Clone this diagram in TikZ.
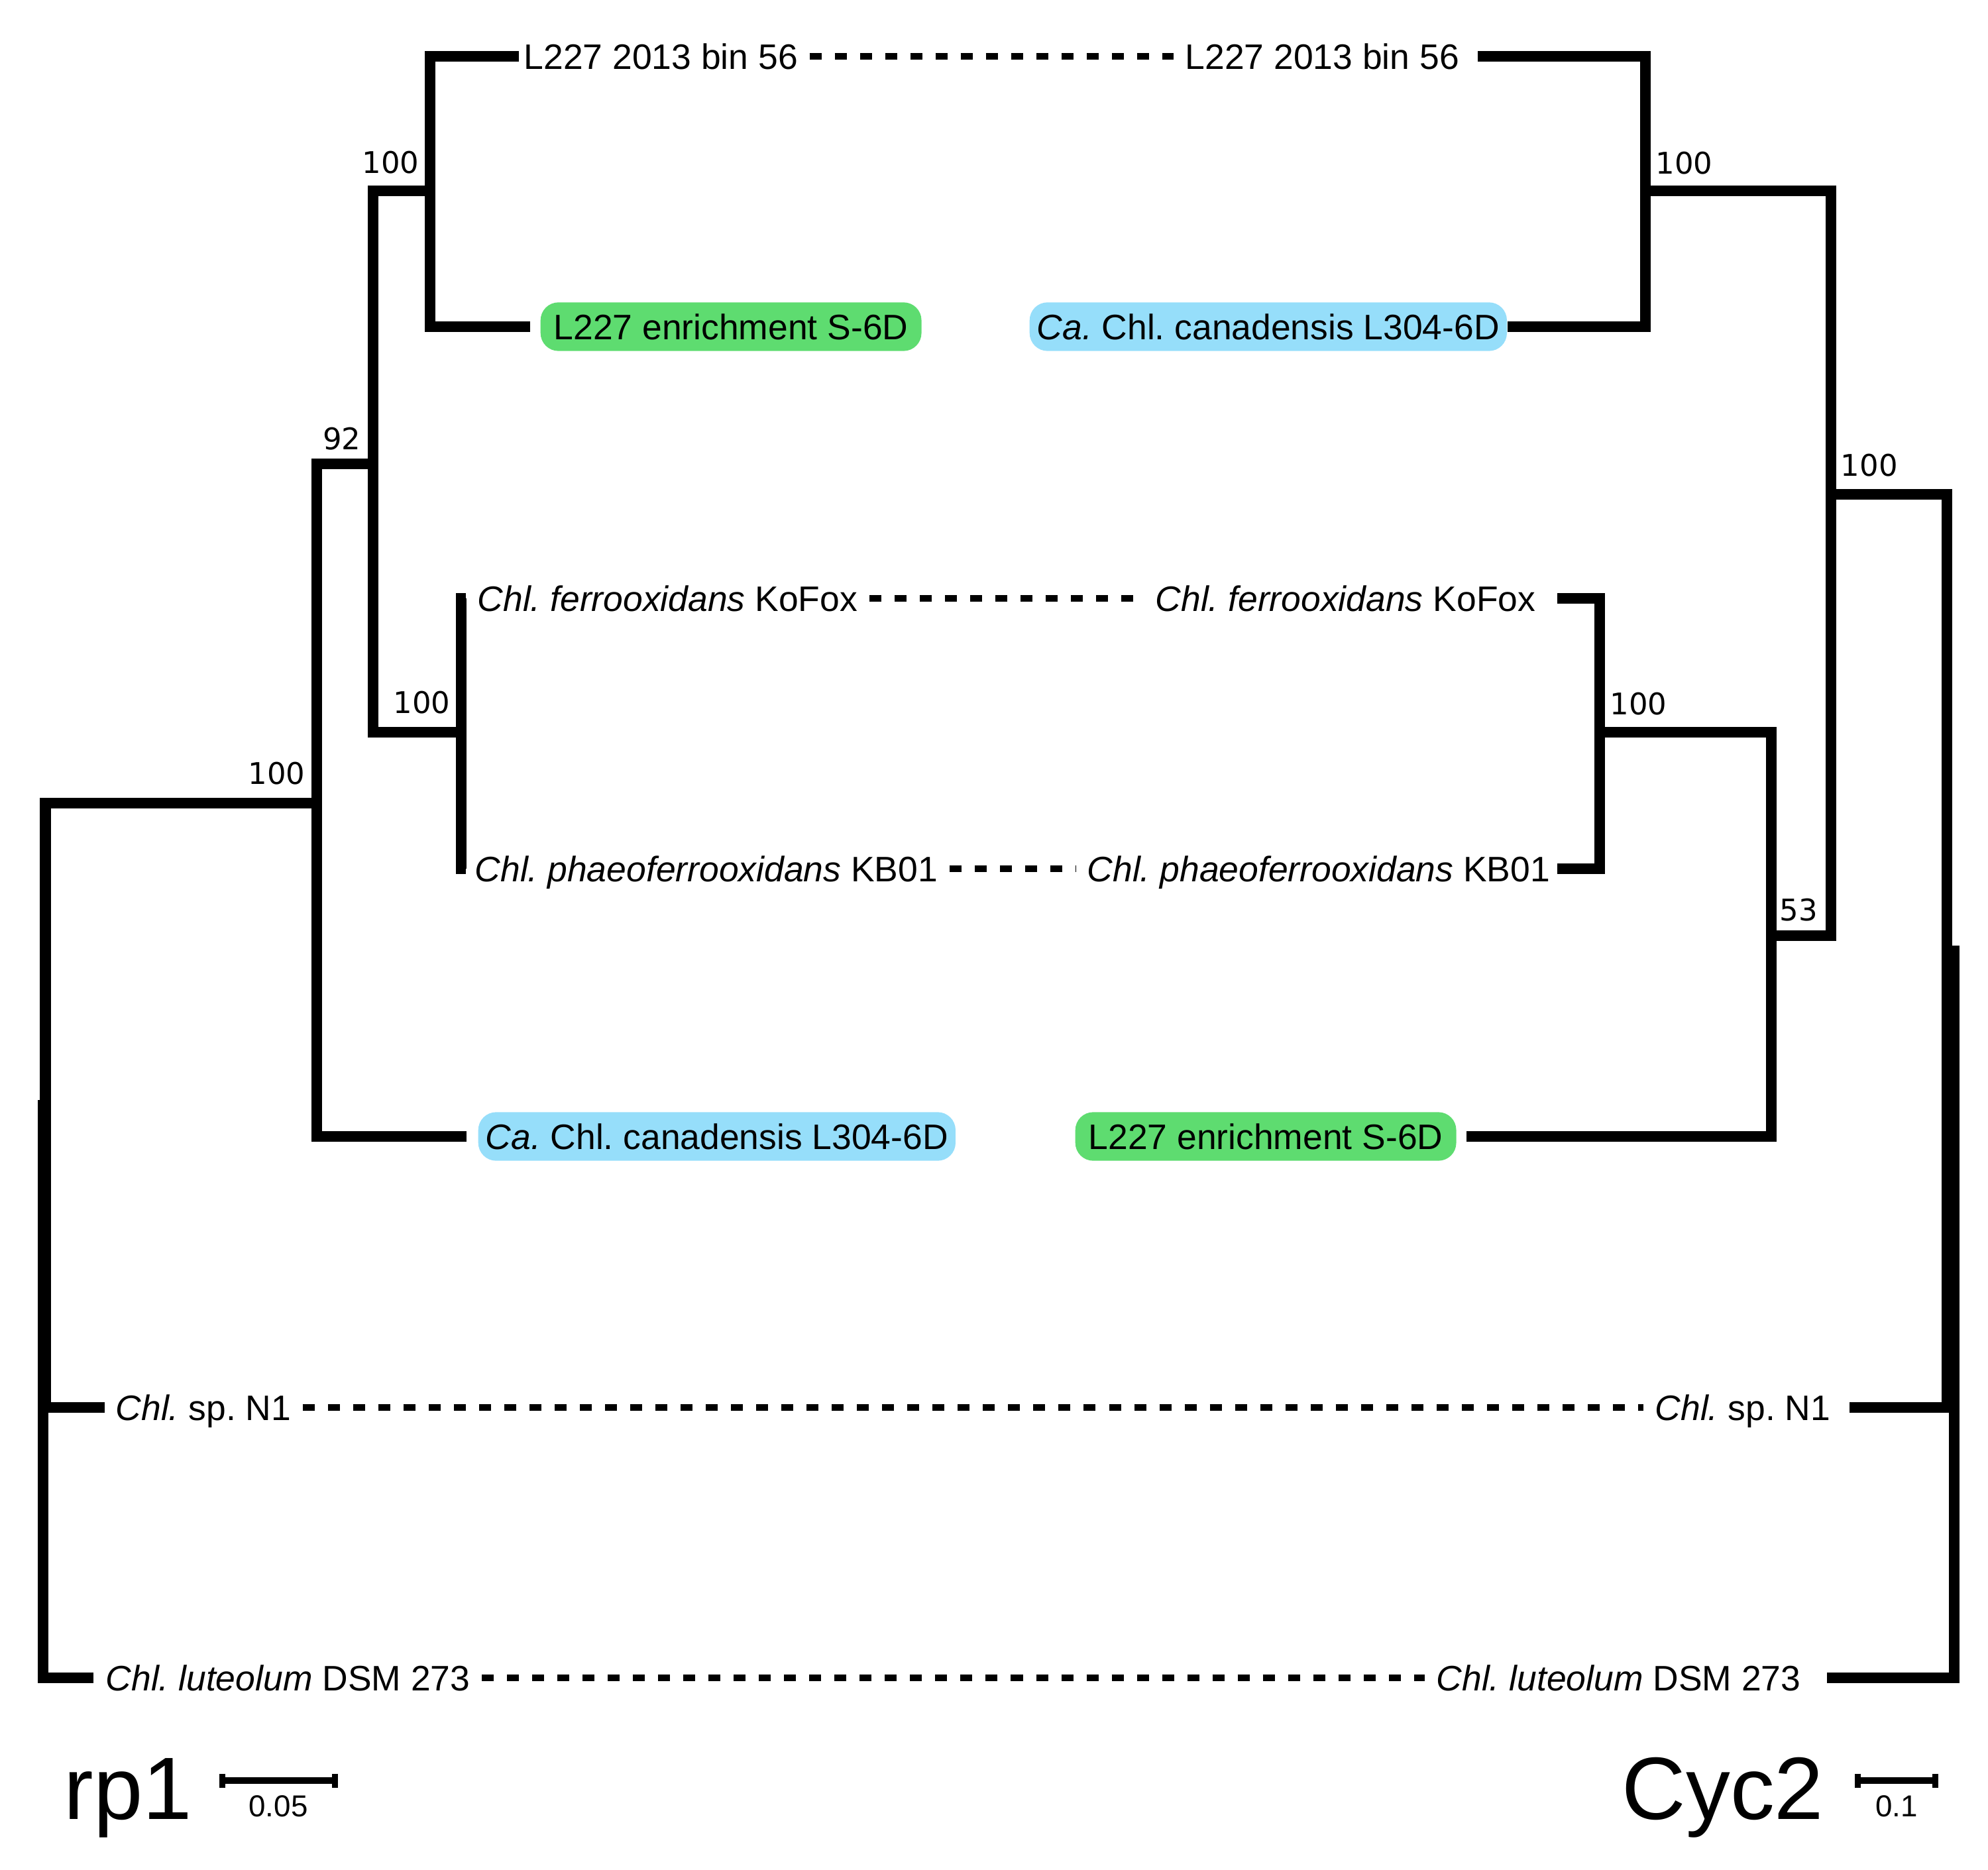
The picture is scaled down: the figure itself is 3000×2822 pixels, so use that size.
\documentclass[tikz,border=0pt]{standalone}
\usepackage{fontspec}
\setmainfont{Liberation Sans}
\newfontfamily\bootfont{DejaVu Sans}
\usepackage{xcolor}
\usetikzlibrary{calc}
\definecolor{enrgreen}{RGB}{94,220,112}
\definecolor{canblue}{RGB}{150,222,250}
\frenchspacing

\begin{document}
\begin{tikzpicture}[x=0.01cm,y=-0.01cm,
    branch/.style={line width=0.16cm, line join=miter},
    dashconn/.style={line width=0.1cm, dash pattern=on 0.18cm off 0.2cm, shorten <=0.17cm, shorten >=0.17cm},
    leaf/.style={inner sep=0pt, text height=0.383cm, text depth=0pt, font=\fontsize{15.2}{18}\selectfont},
    enrbox/.style={leaf, fill=enrgreen, rounded corners=0.27cm, inner xsep=0.2cm, inner ysep=0.175cm},
    canbox/.style={leaf, fill=canblue, rounded corners=0.27cm, inner xsep=0.11cm, inner ysep=0.175cm},
    boot/.style={inner sep=0pt, font=\bootfont\fontsize{12.8}{15}\selectfont},
    treename/.style={inner sep=0pt, font=\fontsize{38}{46}\selectfont},
    scalebar/.style={line width=0.1cm},
    scaletick/.style={line width=0.09cm},
    scalelab/.style={inner sep=0pt, font=\fontsize{13}{15}\selectfont}]
    \useasboundingbox (0,0) rectangle (3000,2822);

    % rp1 tree
    \coordinate (lt-bin) at (783,85);
    \coordinate (lt-enr) at (800,493);
    \coordinate (lt-kof) at (703,903);
    \coordinate (lt-kb) at (703,1311);
    \coordinate (lt-ca) at (704,1715);
    \coordinate (lt-spn) at (158,2124);
    \coordinate (lt-lut) at (141,2532);
    \coordinate (ln1) at (649,288);
    \coordinate (ln2) at (696,1105);
    \coordinate (ln3) at (563,700);
    \coordinate (ln4) at (478,1212);
    \coordinate (lnA) at (68.5,1668);
    \coordinate (lnB) at (65,2100);
    \draw[branch] (lt-bin) -| (ln1) |- (lt-enr);
    \draw[branch] (lt-kof) -| (ln2) |- (lt-kb);
    \draw[branch] (ln1) -| (ln3) |- (ln2);
    \draw[branch] (ln3) -| (ln4) |- (lt-ca);
    \draw[branch] (ln4) -| (lnA) |- (lt-spn);
    \draw[branch] (lnA) -| (lnB) |- (lt-lut);
    \node[boot, anchor=base east] (lb1) at (633,262) {100};
    \node[boot, anchor=base east] (lb3) at (545,679) {92};
    \node[boot, anchor=base east] (lb2) at (680,1076) {100};
    \node[boot, anchor=base east] (lb4) at (461,1183) {100};

    \node[leaf, anchor=west] (lbin) at (790,85) {L227 2013 bin 56};
    \node[enrbox, anchor=west] (lenr) at (815,493) {L227 enrichment S-6D};
    \node[leaf, anchor=west] (lkof) at (720,903) {\textit{Chl. ferrooxidans} KoFox};
    \node[leaf, anchor=west] (lkb) at (716,1311) {\textit{Chl. phaeoferrooxidans} KB01};
    \node[canbox, anchor=west] (lca) at (721,1715) {\textit{Ca.} Chl. canadensis L304-6D};
    \node[leaf, anchor=west] (lspn) at (174,2124) {\textit{Chl.} sp. N1};
    \node[leaf, anchor=west] (llut) at (159,2532) {\textit{Chl. luteolum} DSM 273};

    % Cyc2 tree
    \coordinate (rt-bin) at (2230,85);
    \coordinate (rt-ca) at (2275,493);
    \coordinate (rt-kof) at (2350,903);
    \coordinate (rt-kb) at (2350,1311);
    \coordinate (rt-enr) at (2213,1715);
    \coordinate (rt-spn) at (2791,2124);
    \coordinate (rt-lut) at (2757,2532);
    \coordinate (rn1) at (2483,288);
    \coordinate (rn2) at (2414,1105);
    \coordinate (rn3) at (2673,1412);
    \coordinate (rn4) at (2763,746);
    \coordinate (rnA) at (2938,1435);
    \coordinate (rnB) at (2949,1983);
    \draw[branch] (rt-bin) -| (rn1) |- (rt-ca);
    \draw[branch] (rt-kof) -| (rn2) |- (rt-kb);
    \draw[branch] (rn2) -| (rn3) |- (rt-enr);
    \draw[branch] (rn1) -| (rn4) |- (rn3);
    \draw[branch] (rn4) -| (rnA) |- (rt-spn);
    \draw[branch] (rnA) -| (rnB) |- (rt-lut);
    \node[boot, anchor=base west] (rb1) at (2498,263) {100};
    \node[boot, anchor=base west] (rb4) at (2777,719) {100};
    \node[boot, anchor=base west] (rb2) at (2429,1078) {100};
    \node[boot, anchor=base west] (rb3) at (2685,1389) {53};

    \node[leaf, anchor=west] (rbin) at (1788,85) {L227 2013 bin 56};
    \node[canbox, anchor=west] (rca) at (1553,493) {\textit{Ca.} Chl. canadensis L304-6D};
    \node[leaf, anchor=west] (rkof) at (1743,903) {\textit{Chl. ferrooxidans} KoFox};
    \node[leaf, anchor=west] (rkb) at (1640,1311) {\textit{Chl. phaeoferrooxidans} KB01};
    \node[enrbox, anchor=west] (renr) at (1622,1715) {L227 enrichment S-6D};
    \node[leaf, anchor=west] (rspn) at (2497,2124) {\textit{Chl.} sp. N1};
    \node[leaf, anchor=west] (rlut) at (2167,2532) {\textit{Chl. luteolum} DSM 273};

    % links between the two trees
    \foreach \n in {bin,kof,kb,spn,lut} {
        \draw[dashconn] (l\n.east) -- (r\n.west);
    }

    % names and scale bars
    \node[treename, anchor=base west] (rpname) at (96,2745) {rp1};
    \node[treename, anchor=base west] (cycname) at (2447,2745) {Cyc2};
    \coordinate (rpL) at (335.5,2687);
    \coordinate (rpR) at (505.5,2687);
    \coordinate (cycL) at (2803,2687);
    \coordinate (cycR) at (2920,2687);
    \draw[scalebar] (rpL) -- (rpR);
    \draw[scalebar] (cycL) -- (cycR);
    \foreach \e in {rpL,rpR,cycL,cycR} {
        \draw[scaletick] ($(\e)+(0,-10.5)$) -- ($(\e)+(0,10.5)$);
    }
    \node[scalelab, anchor=base] (rplab) at (420,2741) {0.05};
    \node[scalelab, anchor=base] (cyclab) at (2862,2741) {0.1};
\end{tikzpicture}
\end{document}
